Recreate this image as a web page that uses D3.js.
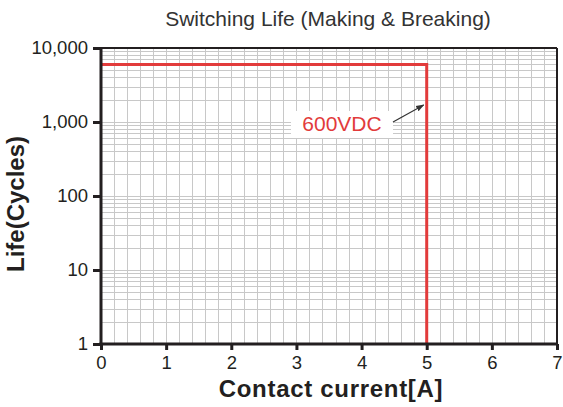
<!DOCTYPE html>
<html>
<head>
<meta charset="utf-8">
<script src="https://cdn.jsdelivr.net/npm/d3@7"></script>
<style>
  body { margin: 0; background: #fff; }
  text { font-family: "Liberation Sans", Arial, Helvetica, sans-serif; }
</style>
</head>
<body>
<script>
// data
var title = "Switching Life (Making & Breaking)";
var xTicks = [0, 1, 2, 3, 4, 5, 6, 7];
var yTicks = [1, 10, 100, 1000, 10000];
var yTickLabels = ["1", "10", "100", "1,000", "10,000"];
var curveCurrent = [0, 5, 5];        // A
var curveLife = [6000, 6000, 1];     // cycles
var curveName = "600VDC";
var xLabel = "Contact current[A]";
var yLabel = "Life(Cycles)";

var width = 563, height = 407;
var margin = { left: 101, right: 6, top: 48, bottom: 63 };

var svg = d3.select("body").append("svg")
	.attr("width", width)
	.attr("height", height);

var x = d3.scaleLinear().domain([0, 7]).range([margin.left, width - margin.right]);
var y = d3.scaleLog().domain([1, 10000]).range([height - margin.bottom, margin.top]);

// grid
var xGrid = d3.range(1, 35).map(function(i) { return i * 0.2; });
var yGrid = [];
[1, 10, 100, 1000].forEach(function(d) {
	for (var k = 1; k <= 9; k++) { if (k * d > 1) yGrid.push(k * d); }
});

var grid = svg.append("g").attr("stroke", "#c8c8c8").attr("stroke-width", 1);
grid.selectAll("line.gx").data(xGrid).enter().append("line")
	.attr("x1", function(d) { return Math.round(x(d)) + 0.5; })
	.attr("x2", function(d) { return Math.round(x(d)) + 0.5; })
	.attr("y1", y(10000)).attr("y2", y(1));
grid.selectAll("line.gy").data(yGrid).enter().append("line")
	.attr("y1", function(d) { return Math.round(y(d)) + 0.5; })
	.attr("y2", function(d) { return Math.round(y(d)) + 0.5; })
	.attr("x1", x(0)).attr("x2", x(7));

// frame top/right
svg.append("line").attr("x1", x(0)).attr("x2", x(7)).attr("y1", y(10000)).attr("y2", y(10000))
	.attr("stroke", "#231f20").attr("stroke-width", 2);
svg.append("line").attr("x1", x(7)).attr("x2", x(7)).attr("y1", y(10000)).attr("y2", y(1))
	.attr("stroke", "#231f20").attr("stroke-width", 2);

// curve
var line = d3.line()
	.x(function(d) { return x(d[0]); })
	.y(function(d) { return y(d[1]); });
svg.append("path")
	.datum(d3.zip(curveCurrent, curveLife))
	.attr("d", line)
	.attr("fill", "none")
	.attr("stroke", "#e23b3b")
	.attr("stroke-width", 3);

// axes
var xAxis = svg.append("g")
	.attr("transform", "translate(0," + y(1) + ")")
	.call(d3.axisBottom(x).tickValues(xTicks).tickSize(6).tickPadding(6).tickFormat(d3.format("d")));
var yAxis = svg.append("g")
	.attr("transform", "translate(" + x(0) + ",0)")
	.call(d3.axisLeft(y).tickValues(yTicks).tickSize(8).tickPadding(5)
		.tickFormat(function(d, i) { return yTickLabels[i]; }));

[xAxis, yAxis].forEach(function(a) {
	a.select(".domain").attr("stroke", "#231f20").attr("stroke-width", 3);
	a.selectAll(".tick line").attr("stroke", "#231f20").attr("stroke-width", 3);
	a.selectAll(".tick text").attr("fill", "#231f20").style("font-size", "18.5px");
});
xAxis.select(".domain").attr("d", "M" + (x(0) - 1.5) + ",0H" + x(7));
yAxis.select(".domain").attr("d", "M0," + y(10000) + "V" + (y(1) + 1.5));

// annotation
var lx = 342, ly = 131;
svg.append("rect").attr("x", lx - 51).attr("y", ly - 20).attr("width", 102).attr("height", 27).attr("fill", "#fff");
svg.append("text").attr("x", lx).attr("y", ly)
	.attr("text-anchor", "middle")
	.attr("fill", "#e23b3b")
	.style("font-size", "21px")
	.text(curveName);

svg.append("defs").append("marker")
	.attr("id", "arr").attr("viewBox", "0 0 10 10")
	.attr("refX", 9).attr("refY", 5)
	.attr("markerWidth", 7).attr("markerHeight", 7)
	.attr("orient", "auto")
	.append("path").attr("d", "M0,1.5L10,5L0,8.5z").attr("fill", "#333");
svg.append("line")
	.attr("x1", 393).attr("y1", 122).attr("x2", x(5) - 3).attr("y2", 105)
	.attr("stroke", "#333").attr("stroke-width", 1.2)
	.attr("marker-end", "url(#arr)");

// titles
svg.append("text").attr("x", 328).attr("y", 26)
	.attr("text-anchor", "middle").attr("fill", "#333")
	.style("font-size", "21px").text(title);
svg.append("text").attr("x", 331).attr("y", 397)
	.attr("text-anchor", "middle").attr("fill", "#231f20")
	.style("font-size", "24px").style("font-weight", "bold")
	.style("letter-spacing", "0.7px").text(xLabel);
svg.append("text")
	.attr("transform", "translate(24,204) rotate(-90)")
	.attr("text-anchor", "middle").attr("fill", "#231f20")
	.style("font-size", "24px").style("font-weight", "bold").text(yLabel);
</script>
</body>
</html>
